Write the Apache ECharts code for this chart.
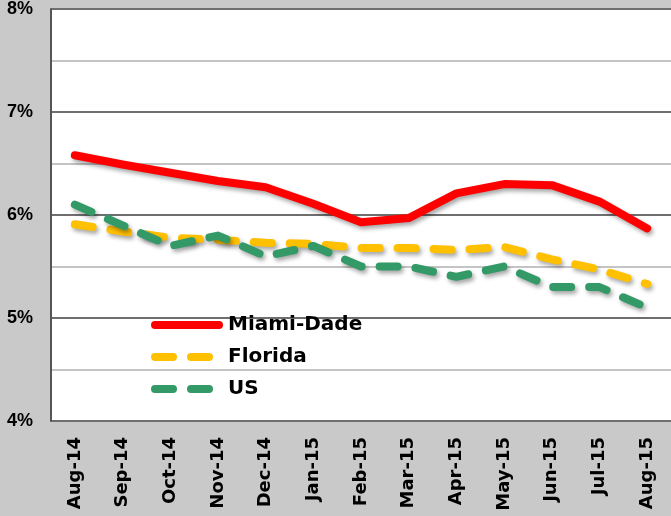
<!DOCTYPE html>
<html>
<head>
<meta charset="utf-8">
<script src="https://cdn.jsdelivr.net/npm/echarts@6/dist/echarts.min.js"></script>
<style>
  html, body { margin: 0; padding: 0; background: #c9c9c9; }
  #chart { width: 671px; height: 516px; }
</style>
</head>
<body>
<div id="chart"></div>
<script>
// months on the x axis
const months = ['Aug-14', 'Sep-14', 'Oct-14', 'Nov-14', 'Dec-14', 'Jan-15', 'Feb-15',
  'Mar-15', 'Apr-15', 'May-15', 'Jun-15', 'Jul-15', 'Aug-15']
// unemployment rate, percent
const miamiDade = [6.58, 6.49, 6.41, 6.33, 6.27, 6.11, 5.93, 5.97, 6.21, 6.30, 6.29, 6.13, 5.87]
const florida = [5.91, 5.84, 5.78, 5.76, 5.73, 5.72, 5.68, 5.68, 5.66, 5.69, 5.57, 5.47, 5.33]
const us = [6.1, 5.9, 5.7, 5.8, 5.6, 5.7, 5.5, 5.5, 5.4, 5.5, 5.3, 5.3, 5.1]

const myChart = echarts.init(document.getElementById('chart'))

const shadow = {
  shadowColor: 'rgba(0, 0, 0, 0.35)',
  shadowBlur: 4,
  shadowOffsetX: 2,
  shadowOffsetY: 3
}

// legend swatches: a solid bar and two dashes (72 x 8 box)
const solidIcon = 'path://M4,0 H68 A4,4 0 0 1 68,8 H4 A4,4 0 0 1 4,0 Z'
const dashIcon = 'path://M4,0 H22 A4,4 0 0 1 22,8 H4 A4,4 0 0 1 4,0 Z' +
  ' M40,0 H58 A4,4 0 0 1 58,8 H40 A4,4 0 0 1 40,0 Z M71.9,4 L72,4 Z'

const option = {
  backgroundColor: '#c9c9c9',
  animation: false,
  grid: {
    left: 51,
    top: 7,
    right: -8,
    bottom: 95,
    show: true,
    backgroundColor: '#ffffff',
    borderWidth: 0
  },
  legend: {
    orient: 'vertical',
    left: 146,
    top: 310,
    itemWidth: 72,
    itemHeight: 8,
    itemGap: 12,
    textStyle: {
      fontFamily: 'DejaVu Sans',
      fontWeight: 'bold',
      fontSize: 20,
      color: '#000'
    },
    data: [
      { name: 'Miami-Dade', icon: solidIcon },
      { name: 'Florida', icon: dashIcon },
      { name: 'US', icon: dashIcon }
    ]
  },
  xAxis: {
    type: 'category',
    data: months,
    boundaryGap: true,
    axisLine: { show: false },
    axisTick: { show: false },
    axisLabel: {
      rotate: 90,
      margin: 16,
      interval: 0,
      fontFamily: 'DejaVu Sans',
      fontWeight: 'bold',
      fontSize: 18,
      color: '#000'
    }
  },
  yAxis: {
    type: 'value',
    min: 4,
    max: 8,
    interval: 1,
    axisLine: { show: true, lineStyle: { color: '#555', width: 2 } },
    axisTick: { show: false },
    axisLabel: {
      margin: 18,
      formatter: '{value}%',
      fontFamily: 'Liberation Sans',
      fontWeight: 'bold',
      fontSize: 18,
      color: '#000'
    },
    splitLine: { lineStyle: { color: '#6e6e6e', width: 2 } },
    minorTick: { show: false, splitNumber: 2 },
    minorSplitLine: { show: true, lineStyle: { color: '#c4c4c4', width: 2 } }
  },
  series: [
    {
      name: 'Miami-Dade',
      type: 'line',
      data: miamiDade,
      symbol: 'none',
      z: 4,
      itemStyle: { color: '#ff0000' },
      lineStyle: Object.assign({ color: '#ff0000', width: 8, cap: 'round', join: 'round' }, shadow)
    },
    {
      name: 'Florida',
      type: 'line',
      data: florida,
      symbol: 'none',
      z: 3,
      itemStyle: { color: '#ffc000' },
      lineStyle: Object.assign({ color: '#ffc000', width: 8, type: [18, 18], cap: 'round', join: 'round' }, shadow)
    },
    {
      name: 'US',
      type: 'line',
      data: us,
      symbol: 'none',
      z: 3,
      itemStyle: { color: '#339966' },
      lineStyle: Object.assign({ color: '#339966', width: 8, type: [18, 18], cap: 'round', join: 'round' }, shadow)
    }
  ]
}

myChart.setOption(option)
</script>
</body>
</html>
